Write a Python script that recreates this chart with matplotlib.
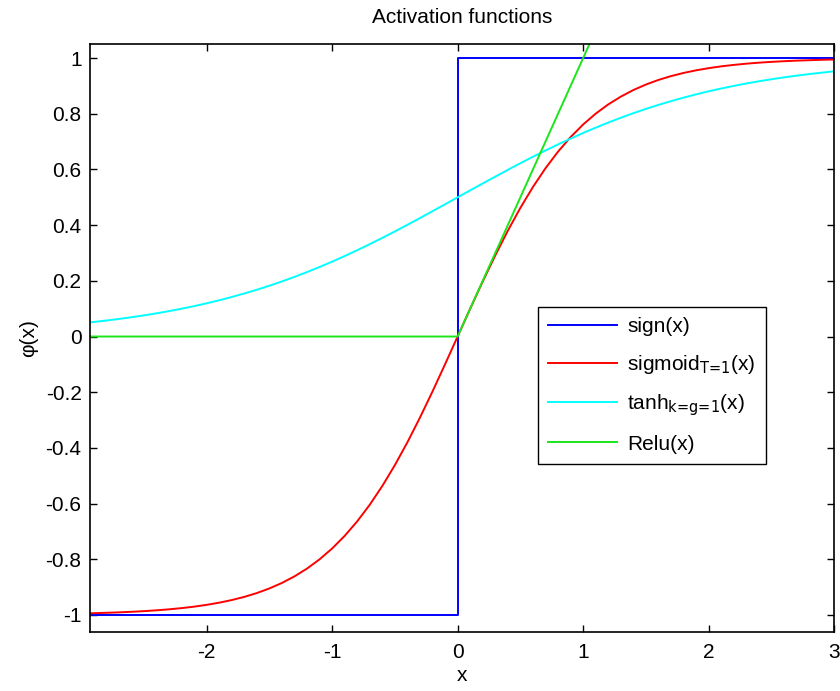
import matplotlib
matplotlib.use('Agg')
import matplotlib.pyplot as plt

plt.rcParams['font.family'] = ['Liberation Sans', 'DejaVu Sans']
plt.rcParams['mathtext.default'] = 'regular'
plt.rcParams['axes.unicode_minus'] = False

# values
x = [-2.93, -2.9, -2.8, -2.7, -2.6, -2.5, -2.4, -2.3, -2.2, -2.1, -2.0,
     -1.9, -1.8, -1.7, -1.6, -1.5, -1.4, -1.3, -1.2, -1.1, -1.0,
     -0.9, -0.8, -0.7, -0.6, -0.5, -0.4, -0.3, -0.2, -0.1, 0.0,
     0.1, 0.2, 0.3, 0.4, 0.5, 0.6, 0.7, 0.8, 0.9, 1.0,
     1.1, 1.2, 1.3, 1.4, 1.5, 1.6, 1.7, 1.8, 1.9, 2.0,
     2.1, 2.2, 2.3, 2.4, 2.5, 2.6, 2.7, 2.8, 2.9, 3.0]

sigmoid_y = [-0.9943, -0.9940, -0.9926, -0.9910, -0.9890, -0.9866, -0.9837,
             -0.9801, -0.9757, -0.9705, -0.9640,
             -0.9562, -0.9468, -0.9354, -0.9217, -0.9051, -0.8854, -0.8617,
             -0.8337, -0.8005, -0.7616,
             -0.7163, -0.6640, -0.6044, -0.5370, -0.4621, -0.3799, -0.2913,
             -0.1974, -0.0997, 0.0,
             0.0997, 0.1974, 0.2913, 0.3799, 0.4621, 0.5370, 0.6044, 0.6640,
             0.7163, 0.7616,
             0.8005, 0.8337, 0.8617, 0.8854, 0.9051, 0.9217, 0.9354, 0.9468,
             0.9562, 0.9640,
             0.9705, 0.9757, 0.9801, 0.9837, 0.9866, 0.9890, 0.9910, 0.9926,
             0.9940, 0.9951]

tanh_y = [0.0507, 0.0522, 0.0573, 0.0630, 0.0691, 0.0759, 0.0832, 0.0911,
          0.0998, 0.1091, 0.1192,
          0.1301, 0.1419, 0.1545, 0.1680, 0.1824, 0.1978, 0.2142, 0.2315,
          0.2497, 0.2689,
          0.2891, 0.3100, 0.3318, 0.3543, 0.3775, 0.4013, 0.4256, 0.4502,
          0.4750, 0.5000,
          0.5250, 0.5498, 0.5744, 0.5987, 0.6225, 0.6457, 0.6682, 0.6900,
          0.7109, 0.7311,
          0.7503, 0.7685, 0.7858, 0.8022, 0.8176, 0.8320, 0.8455, 0.8581,
          0.8699, 0.8808,
          0.8909, 0.9002, 0.9089, 0.9168, 0.9241, 0.9309, 0.9370, 0.9427,
          0.9478, 0.9526]

relu_x = [-2.93, 0.0, 3.0]
relu_y = [0.0, 0.0, 3.0]

sign_x = [-2.93, 0.0, 0.0, 3.0]
sign_y = [-1, -1, 1, 1]

xticks = [-2, -1, 0, 1, 2, 3]
yticks = [-1, -0.8, -0.6, -0.4, -0.2, 0, 0.2, 0.4, 0.6, 0.8, 1]
ytick_labels = ['-1', '-0.8', '-0.6', '-0.4', '-0.2', '0',
                '0.2', '0.4', '0.6', '0.8', '1']

fs = 15

fig = plt.figure(figsize=(8.4, 6.91), dpi=100)
ax = fig.add_axes([0.107, 0.086, 0.886, 0.850])

ax.plot(sign_x, sign_y, color=(0, 0, 1), linewidth=1.4, label='sign(x)')
ax.plot(x, sigmoid_y, color=(1, 0, 0), linewidth=1.4,
        label=r'sigmoid$_{\text{T=1}}$(x)')
ax.plot(x, tanh_y, color=(0, 1, 1), linewidth=1.4,
        label=r'tanh$_{\text{k=g=1}}$(x)')
ax.plot(relu_x, relu_y, color=(0.1, 0.9, 0.1), linewidth=1.4, label='Relu(x)')

ax.set_xlim(-2.93, 3)
ax.set_ylim(-1.06, 1.05)
ax.set_xticks(xticks)
ax.set_xticklabels([str(t) for t in xticks])
ax.set_yticks(yticks)
ax.set_yticklabels(ytick_labels)
ax.tick_params(direction='in', top=True, right=True, length=5, width=1,
               labelsize=fs, pad=6)
ax.tick_params(axis='x', pad=8)
for s in ax.spines.values():
    s.set_linewidth(1.2)

ax.set_title('Activation functions', fontsize=fs, pad=15)
ax.set_xlabel('x', fontsize=fs, labelpad=3)
ax.set_ylabel('φ(x)', fontsize=fs, labelpad=5)

leg = ax.legend(loc='upper left', bbox_to_anchor=(0.602, 0.553), borderaxespad=0,
                fontsize=fs, handlelength=3.3, handletextpad=0.5,
                labelspacing=0.8, fancybox=False, edgecolor='black',
                framealpha=1, borderpad=0.5)
leg.get_frame().set_linewidth(1.0)

fig.savefig('out.png', dpi=100)
